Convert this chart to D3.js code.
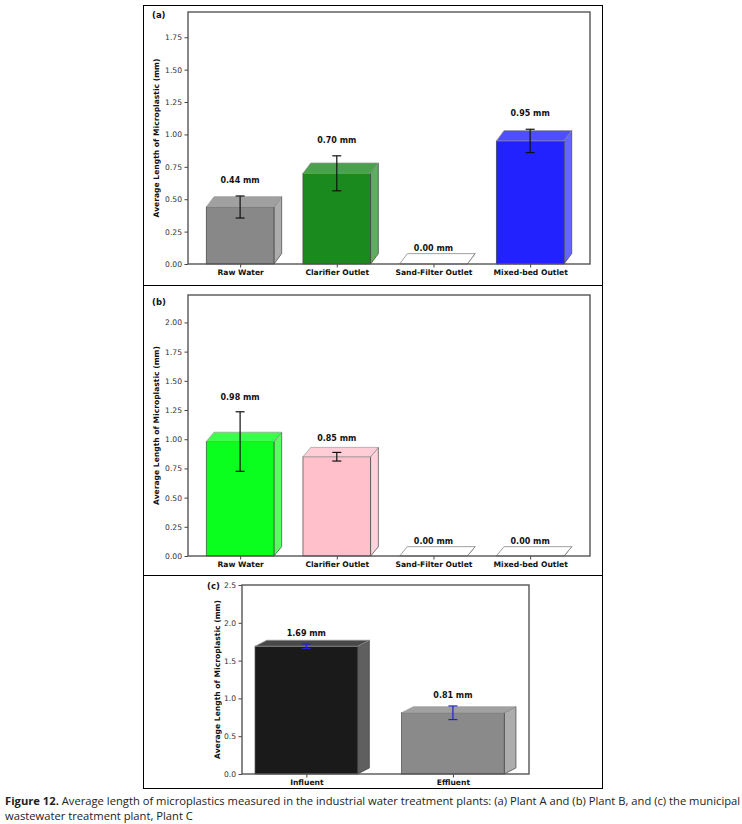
<!DOCTYPE html>
<html>
<head>
<meta charset="utf-8">
<script src="https://cdn.jsdelivr.net/npm/d3@7"></script>
<style>
  body { margin: 0; background: #fff; }
  svg { display: block; }
</style>
</head>
<body>
<div id="chart"></div>
<script>
// panel (a) Plant A
var catsA = ["Raw Water", "Clarifier Outlet", "Sand-Filter Outlet", "Mixed-bed Outlet"];
var valsA = [0.44, 0.70, 0.00, 0.95];
var errA = [0.085, 0.135, 0.00, 0.09];
var ticksA = [0, 0.25, 0.5, 0.75, 1.0, 1.25, 1.5, 1.75];

// panel (b) Plant B
var catsB = ["Raw Water", "Clarifier Outlet", "Sand-Filter Outlet", "Mixed-bed Outlet"];
var valsB = [0.98, 0.85, 0.00, 0.00];
var errB = [0.255, 0.037, 0.00, 0.00];
var ticksB = [0, 0.25, 0.5, 0.75, 1.0, 1.25, 1.5, 1.75, 2.0];

// panel (c) Plant C
var catsC = ["Influent", "Effluent"];
var valsC = [1.69, 0.81];
var errC = [0.03, 0.09];
var ticksC = [0, 0.5, 1.0, 1.5, 2.0, 2.5];

var colorsA = ["#888888", "#1a8a1e", "#ffffff", "#2222ff"];
var colorsB = ["#0aff1e", "#ffc0cb", "#ffffff", "#ffffff"];
var colorsC = ["#1a1a1a", "#8a8a8a"];

var W = 742, H = 824;
var svg = d3.select("#chart").append("svg")
    .attr("width", W)
    .attr("height", H);

// outer figure frame and separators
svg.append("rect")
    .attr("x", 143.5).attr("y", 5.5)
    .attr("width", 459).attr("height", 783)
    .attr("fill", "none").attr("stroke", "#000").attr("stroke-width", 1);
svg.append("line").attr("x1", 143).attr("x2", 603).attr("y1", 285.5).attr("y2", 285.5)
    .attr("stroke", "#000");
svg.append("line").attr("x1", 143).attr("x2", 603).attr("y1", 575.5).attr("y2", 575.5)
    .attr("stroke", "#000");

var depth = 0.08; // 3d offset in data units (both axes)
var barW = 0.7;

function drawPanel(p) {
    var n = p.cats.length;
    var lo = -barW / 2, hi = n - 1 + barW / 2 + depth;
    var m = (hi - lo) * 0.05;
    var x = d3.scaleLinear().domain([lo - m, hi + m]).range([p.left, p.right]);
    var y = d3.scaleLinear().domain([0, p.ymax]).range([p.bottom, p.top]);
    var g = svg.append("g");

    var data = p.cats.map(function(c, i) {
        return { cat: c, v: p.vals[i], e: p.errs[i], col: p.colors[i], i: i };
    });

    var bars = g.selectAll("g.bar").data(data).enter().append("g").attr("class", "bar");

    bars.each(function(d) {
        var b = d3.select(this);
        var x0 = x(d.i - barW / 2), x1 = x(d.i + barW / 2);
        var x0d = x(d.i - barW / 2 + depth), x1d = x(d.i + barW / 2 + depth);
        var yv = y(d.v), yvd = y(d.v + depth), y0 = y(0), y0d = y(depth);
        var edge = d.v === 0 ? "#777" : "#444";
        var topCol = d3.interpolateRgb(d.col, "#fff")(0.2);
        var sideCol = d3.interpolateRgb(d.col, "#fff")(0.3);
        // side face
        b.append("polygon")
            .attr("points", [[x1, y0], [x1, yv], [x1d, yvd], [x1d, y0d]].join(" "))
            .attr("fill", sideCol).attr("stroke", edge).attr("stroke-width", 0.7);
        // front face
        if (d.v > 0) {
            b.append("rect")
                .attr("x", x0).attr("y", yv)
                .attr("width", x1 - x0).attr("height", y0 - yv)
                .attr("fill", d.col).attr("stroke", edge).attr("stroke-width", 0.7);
        }
        // top face
        b.append("polygon")
            .attr("points", [[x0, yv], [x0d, yvd], [x1d, yvd], [x1, yv]].join(" "))
            .attr("fill", topCol).attr("stroke", d.v === 0 ? "#777" : "#999").attr("stroke-width", 0.7);
        // error bar
        if (d.e > 0) {
            var cx = x(d.i), cap = 4.5;
            b.append("line").attr("x1", cx).attr("x2", cx)
                .attr("y1", y(d.v - d.e)).attr("y2", y(d.v + d.e))
                .attr("stroke", p.errColor).attr("stroke-width", 1.2);
            [d.v - d.e, d.v + d.e].forEach(function(t) {
                b.append("line").attr("x1", cx - cap).attr("x2", cx + cap)
                    .attr("y1", y(t)).attr("y2", y(t))
                    .attr("stroke", p.errColor).attr("stroke-width", 1.2);
            });
        }
        // value label
        b.append("text")
            .attr("x", x(d.i))
            .attr("y", y(d.v + d.e + 0.1))
            .attr("text-anchor", "middle")
            .attr("font-family", "DejaVu Sans")
            .attr("font-weight", "bold")
            .attr("font-size", "8px")
            .attr("fill", "#111")
            .text(d.v.toFixed(2) + " mm");
    });

    // axes
    var yAxis = d3.axisLeft(y).tickValues(p.ticks).tickFormat(d3.format(p.fmt)).tickSize(3.5).tickPadding(2.5);
    var ya = g.append("g").attr("transform", "translate(" + p.left + ",0)").call(yAxis);
    ya.select(".domain").remove();
    ya.selectAll("text").attr("font-family", "DejaVu Sans").attr("font-size", "7.6px").attr("fill", "#333");
    ya.selectAll("line").attr("stroke", "#444");

    var xAxis = d3.axisBottom(x).tickValues(d3.range(n)).tickFormat(function(i) { return p.cats[i]; })
        .tickSize(3.5).tickPadding(2);
    var xa = g.append("g").attr("transform", "translate(0," + p.bottom + ")").call(xAxis);
    xa.select(".domain").remove();
    xa.selectAll("text").attr("font-family", "DejaVu Sans").attr("font-weight", "bold")
        .attr("font-size", "7.6px").attr("fill", "#111");
    xa.selectAll("line").attr("stroke", "#444");

    // spines
    g.append("rect")
        .attr("x", p.left).attr("y", p.top)
        .attr("width", p.right - p.left).attr("height", p.bottom - p.top)
        .attr("fill", "none").attr("stroke", "#555").attr("stroke-width", 1.4);

    // y label
    g.append("text")
        .attr("transform", "translate(" + p.ylabX + "," + ((p.top + p.bottom) / 2) + ") rotate(-90)")
        .attr("text-anchor", "middle")
        .attr("dominant-baseline", "middle")
        .attr("font-family", "DejaVu Sans")
        .attr("font-weight", "bold")
        .attr("font-size", "7.6px")
        .attr("fill", "#111")
        .text("Average Length of Microplastic (mm)");

    // panel letter
    g.append("text")
        .attr("x", p.tagX).attr("y", p.tagY)
        .attr("font-family", "DejaVu Sans")
        .attr("font-weight", "bold")
        .attr("font-size", "8.5px")
        .attr("dominant-baseline", "middle")
        .attr("fill", "#111")
        .text(p.tag);
}

drawPanel({ cats: catsA, vals: valsA, errs: errA, colors: colorsA, ticks: ticksA, fmt: ".2f",
    left: 188, right: 590, top: 12, bottom: 264, ymax: 1.945, errColor: "#111",
    ylabX: 157, tagX: 152, tagY: 15, tag: "(a)" });

drawPanel({ cats: catsB, vals: valsB, errs: errB, colors: colorsB, ticks: ticksB, fmt: ".2f",
    left: 188, right: 590, top: 295, bottom: 556, ymax: 2.235, errColor: "#111",
    ylabX: 157, tagX: 152, tagY: 302, tag: "(b)" });

drawPanel({ cats: catsC, vals: valsC, errs: errC, colors: colorsC, ticks: ticksC, fmt: ".1f",
    left: 242, right: 529, top: 585, bottom: 774, ymax: 2.5, errColor: "#2222cc",
    ylabX: 218, tagX: 207, tagY: 586, tag: "(c)" });

// caption
var cap = svg.append("g").attr("font-family", "Open Sans").attr("font-size", "11px").attr("fill", "#222");
var line1 = cap.append("text").attr("x", 0).attr("y", 805);
line1.append("tspan").attr("font-weight", "bold").text("Figure 12.");
line1.append("tspan").text(" Average length of microplastics measured in the industrial water treatment plants: (a) Plant A and (b) Plant B, and (c) the municipal");
cap.append("text").attr("x", 0).attr("y", 820)
    .text("wastewater treatment plant, Plant C");
var w1 = line1.node().getComputedTextLength();
var sx = 736 / w1;
cap.attr("transform", "translate(5,0) scale(" + sx + ",1)");
</script>
</body>
</html>
